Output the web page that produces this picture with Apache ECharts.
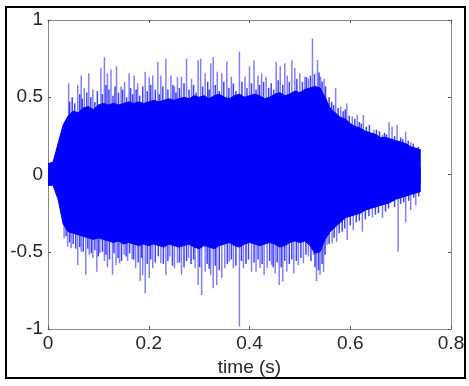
<!DOCTYPE html>
<html>
<head>
<meta charset="utf-8">
<script src="https://cdn.jsdelivr.net/npm/echarts@6/dist/echarts.min.js"></script>
<style>
  html, body { margin: 0; padding: 0; background: #fff; }
  #chart { width: 469px; height: 386px; }
</style>
</head>
<body>
<div id="chart"></div>
<script>
// 包络采样时间 (s)
const envT = [0, 0.01, 0.02, 0.03, 0.04, 0.05, 0.06, 0.07, 0.08, 0.09,
  0.10, 0.11, 0.12, 0.13, 0.14, 0.15, 0.16, 0.17, 0.18, 0.19,
  0.20, 0.21, 0.22, 0.23, 0.24, 0.25, 0.26, 0.27, 0.28, 0.29,
  0.30, 0.31, 0.32, 0.33, 0.34, 0.35, 0.36, 0.37, 0.38, 0.39,
  0.40, 0.41, 0.42, 0.43, 0.44, 0.45, 0.46, 0.47, 0.48, 0.49,
  0.50, 0.51, 0.52, 0.53, 0.54, 0.55, 0.56, 0.57, 0.58, 0.59,
  0.60, 0.61, 0.62, 0.63, 0.64, 0.65, 0.66, 0.67, 0.68, 0.69,
  0.70, 0.71, 0.72, 0.73, 0.74];
// 波形密集部分的上包络
const envUpper = [0.07, 0.08, 0.20, 0.32, 0.38, 0.41, 0.40, 0.43, 0.44, 0.42,
  0.45, 0.46, 0.45, 0.46, 0.45, 0.46, 0.47, 0.46, 0.47, 0.46,
  0.47, 0.48, 0.47, 0.48, 0.49, 0.48, 0.49, 0.50, 0.49, 0.51,
  0.50, 0.51, 0.49, 0.51, 0.52, 0.50, 0.49, 0.51, 0.52, 0.50,
  0.51, 0.52, 0.51, 0.49, 0.50, 0.52, 0.53, 0.51, 0.52, 0.54,
  0.53, 0.55, 0.56, 0.57, 0.56, 0.50, 0.43, 0.40, 0.37, 0.36,
  0.33, 0.31, 0.30, 0.28, 0.27, 0.26, 0.24, 0.24, 0.23, 0.22,
  0.21, 0.20, 0.18, 0.17, 0.16];
// 下包络
const envLower = [-0.07, -0.07, -0.16, -0.32, -0.37, -0.38, -0.39, -0.40, -0.41, -0.42,
  -0.41, -0.42, -0.43, -0.44, -0.43, -0.45, -0.44, -0.45, -0.46, -0.45,
  -0.46, -0.45, -0.46, -0.47, -0.45, -0.46, -0.47, -0.46, -0.45, -0.47,
  -0.48, -0.46, -0.47, -0.48, -0.46, -0.45, -0.44, -0.46, -0.47, -0.45,
  -0.44, -0.45, -0.46, -0.45, -0.44, -0.45, -0.47, -0.46, -0.44, -0.43,
  -0.44, -0.43, -0.46, -0.51, -0.50, -0.42, -0.37, -0.34, -0.31, -0.28,
  -0.27, -0.26, -0.25, -0.23, -0.22, -0.21, -0.20, -0.19, -0.18, -0.16,
  -0.15, -0.14, -0.13, -0.12, -0.11];
// 突出的尖峰 [时间, 幅值]
const spikesUp = [
  [0.041, 0.59], [0.059, 0.58], [0.066, 0.64], [0.072, 0.56], [0.081, 0.655],
  [0.089, 0.55], [0.105, 0.69], [0.112, 0.76], [0.118, 0.655], [0.125, 0.68],
  [0.136, 0.70], [0.145, 0.57], [0.152, 0.60], [0.161, 0.655], [0.171, 0.64],
  [0.178, 0.59], [0.193, 0.665], [0.201, 0.63], [0.208, 0.64], [0.218, 0.73],
  [0.224, 0.64], [0.234, 0.75], [0.244, 0.64], [0.251, 0.57], [0.257, 0.63],
  [0.265, 0.633], [0.275, 0.75], [0.285, 0.62], [0.298, 0.74], [0.303, 0.75],
  [0.312, 0.655], [0.323, 0.72], [0.328, 0.76], [0.336, 0.665], [0.345, 0.655],
  [0.355, 0.73], [0.364, 0.633], [0.380, 0.795], [0.391, 0.633], [0.400, 0.70],
  [0.409, 0.74], [0.417, 0.64], [0.424, 0.655], [0.433, 0.633], [0.453, 0.73],
  [0.461, 0.70], [0.470, 0.72], [0.475, 0.64], [0.484, 0.74], [0.490, 0.69],
  [0.500, 0.655], [0.510, 0.633], [0.517, 0.62], [0.525, 0.88], [0.535, 0.74],
  [0.541, 0.633], [0.548, 0.62], [0.571, 0.56], [0.581, 0.44], [0.593, 0.46],
  [0.604, 0.375], [0.614, 0.385], [0.626, 0.385], [0.647, 0.29], [0.664, 0.256],
  [0.677, 0.34], [0.683, 0.31], [0.693, 0.32], [0.710, 0.277], [0.720, 0.21],
  [0.730, 0.17]
];
const spikesDn = [
  [0.032, -0.413], [0.039, -0.467], [0.046, -0.478], [0.059, -0.586], [0.066, -0.50],
  [0.075, -0.65], [0.082, -0.52], [0.089, -0.54], [0.097, -0.63], [0.103, -0.51],
  [0.112, -0.56], [0.118, -0.60], [0.128, -0.65], [0.135, -0.586], [0.142, -0.575],
  [0.151, -0.52], [0.158, -0.56], [0.167, -0.55], [0.174, -0.607], [0.183, -0.69],
  [0.188, -0.65], [0.193, -0.77], [0.201, -0.67], [0.208, -0.607], [0.224, -0.575],
  [0.234, -0.65], [0.242, -0.53], [0.251, -0.607], [0.257, -0.575], [0.265, -0.65],
  [0.279, -0.54], [0.292, -0.607], [0.298, -0.715], [0.305, -0.78], [0.312, -0.63],
  [0.323, -0.65], [0.328, -0.737], [0.335, -0.715], [0.345, -0.67], [0.351, -0.607],
  [0.360, -0.564], [0.368, -0.607], [0.380, -0.985], [0.388, -0.607], [0.404, -0.63],
  [0.413, -0.63], [0.421, -0.607], [0.429, -0.65], [0.435, -0.607], [0.444, -0.586],
  [0.451, -0.64], [0.459, -0.715], [0.466, -0.693], [0.474, -0.63], [0.488, -0.64],
  [0.497, -0.586], [0.507, -0.575], [0.517, -0.53], [0.527, -0.52], [0.533, -0.69],
  [0.540, -0.65], [0.547, -0.63], [0.554, -0.456], [0.564, -0.445], [0.573, -0.435],
  [0.594, -0.424], [0.606, -0.36], [0.624, -0.37], [0.644, -0.28], [0.664, -0.28],
  [0.695, -0.50], [0.710, -0.31], [0.720, -0.23], [0.730, -0.20]
];
// 包络边缘的小尖峰
const minorUp = [
  [0.043, 0.47], [0.048, 0.50], [0.053, 0.46], [0.063, 0.52], [0.068, 0.49],
  [0.077, 0.53], [0.085, 0.50], [0.093, 0.47], [0.098, 0.54], [0.108, 0.52],
  [0.115, 0.58], [0.121, 0.55], [0.129, 0.51], [0.133, 0.57], [0.140, 0.53],
  [0.148, 0.55], [0.156, 0.50], [0.164, 0.56], [0.168, 0.52], [0.175, 0.55],
  [0.182, 0.51], [0.188, 0.57], [0.197, 0.54], [0.204, 0.58], [0.213, 0.55],
  [0.221, 0.52], [0.228, 0.57], [0.238, 0.55], [0.248, 0.58], [0.254, 0.53],
  [0.261, 0.56], [0.270, 0.59], [0.280, 0.55], [0.289, 0.58], [0.294, 0.53],
  [0.307, 0.57], [0.317, 0.60], [0.320, 0.55], [0.332, 0.58], [0.340, 0.54],
  [0.349, 0.60], [0.359, 0.56], [0.368, 0.59], [0.373, 0.54], [0.385, 0.60],
  [0.395, 0.56], [0.404, 0.59], [0.413, 0.55], [0.420, 0.58], [0.428, 0.60],
  [0.438, 0.56], [0.443, 0.59], [0.448, 0.55], [0.457, 0.61], [0.466, 0.58],
  [0.479, 0.60], [0.494, 0.62], [0.505, 0.60], [0.513, 0.63], [0.521, 0.64],
  [0.529, 0.65], [0.538, 0.66], [0.544, 0.60], [0.551, 0.57], [0.558, 0.50],
  [0.563, 0.47], [0.567, 0.45], [0.576, 0.43], [0.586, 0.41], [0.590, 0.42],
  [0.598, 0.38], [0.609, 0.36], [0.618, 0.34], [0.622, 0.33], [0.632, 0.31],
  [0.638, 0.32], [0.652, 0.29], [0.658, 0.28], [0.668, 0.27], [0.672, 0.26],
  [0.688, 0.25], [0.700, 0.24], [0.704, 0.23], [0.715, 0.22], [0.725, 0.20],
  [0.735, 0.18]
];
const minorDn = [
  [0.036, -0.40], [0.043, -0.44], [0.050, -0.45], [0.055, -0.48], [0.063, -0.47],
  [0.070, -0.50], [0.079, -0.48], [0.086, -0.51], [0.093, -0.49], [0.100, -0.53],
  [0.108, -0.50], [0.115, -0.52], [0.122, -0.55], [0.131, -0.51], [0.139, -0.54],
  [0.146, -0.56], [0.155, -0.53], [0.162, -0.51], [0.170, -0.55], [0.179, -0.57],
  [0.186, -0.54], [0.197, -0.58], [0.204, -0.55], [0.213, -0.57], [0.219, -0.53],
  [0.229, -0.58], [0.238, -0.56], [0.247, -0.59], [0.261, -0.57], [0.270, -0.60],
  [0.275, -0.56], [0.284, -0.58], [0.289, -0.55], [0.301, -0.60], [0.316, -0.58],
  [0.320, -0.61], [0.332, -0.59], [0.340, -0.62], [0.356, -0.58], [0.364, -0.55],
  [0.373, -0.59], [0.384, -0.56], [0.393, -0.58], [0.398, -0.55], [0.409, -0.57],
  [0.417, -0.55], [0.425, -0.58], [0.440, -0.56], [0.447, -0.60], [0.455, -0.57],
  [0.463, -0.60], [0.470, -0.56], [0.479, -0.58], [0.484, -0.55], [0.493, -0.56],
  [0.502, -0.54], [0.512, -0.52], [0.522, -0.56], [0.530, -0.60], [0.537, -0.62],
  [0.544, -0.58], [0.550, -0.52], [0.558, -0.45], [0.568, -0.41], [0.578, -0.38],
  [0.584, -0.37], [0.589, -0.35], [0.600, -0.33], [0.612, -0.31], [0.618, -0.30],
  [0.630, -0.29], [0.637, -0.27], [0.650, -0.26], [0.656, -0.25], [0.670, -0.24],
  [0.676, -0.22], [0.688, -0.21], [0.700, -0.19], [0.706, -0.18], [0.716, -0.17],
  [0.726, -0.15], [0.736, -0.14]
];
const xLabels = ['0', '0.2', '0.4', '0.6', '0.8'];
const yLabels = ['-1', '-0.5', '0', '0.5', '1'];

const font = 'Liberation Sans, Arial, sans-serif';
const blue = '#0000ff';
const spikeColor = 'rgba(0,0,255,0.5)';

var chart = echarts.init(document.getElementById('chart'));

function toPairs(ys) {
  return envT.map(function (t, i) { return [t, ys[i]]; });
}

var baseX = {
  type: 'value', min: 0, max: 0.8, interval: 0.2,
  axisLine: { show: true, onZero: false, lineStyle: { color: '#8a8a8a', width: 1 } },
  axisTick: { show: true, inside: true, length: 3, lineStyle: { color: '#555' } },
  splitLine: { show: false }
};
var baseY = {
  type: 'value', min: -1, max: 1, interval: 0.5,
  axisLine: { show: true, onZero: false, lineStyle: { color: '#8a8a8a', width: 1 } },
  axisTick: { show: true, inside: true, length: 3, lineStyle: { color: '#555' } },
  splitLine: { show: false }
};

var option = {
  animation: false,
  backgroundColor: '#fff',
  grid: { left: 48, top: 20, right: 18, bottom: 57 },
  graphic: [{
    type: 'rect',
    shape: { x: 6, y: 7, width: 459, height: 371 },
    style: { fill: 'none', stroke: '#000', lineWidth: 2 },
    silent: true
  }],
  xAxis: [
    Object.assign({}, baseX, {
      position: 'bottom',
      name: 'time (s)', nameLocation: 'middle', nameGap: 22,
      nameTextStyle: { color: '#262626', fontSize: 19, fontFamily: font },
      axisLabel: {
        color: '#262626', fontSize: 19, fontFamily: font, margin: 5,
        formatter: function (v) { return xLabels[Math.round(v / 0.2)]; }
      }
    }),
    Object.assign({}, baseX, { position: 'top', axisLabel: { show: false } })
  ],
  yAxis: [
    Object.assign({}, baseY, {
      position: 'left',
      axisLabel: {
        color: '#262626', fontSize: 19, fontFamily: font, margin: 5,
        formatter: function (v) { return yLabels[Math.round((v + 1) / 0.5)]; }
      }
    }),
    Object.assign({}, baseY, { position: 'right', axisLabel: { show: false } })
  ],
  series: [
    {
      name: 'lower', type: 'line', data: toPairs(envLower),
      showSymbol: false, symbol: 'none',
      lineStyle: { color: blue, width: 1 },
      areaStyle: { color: blue, opacity: 1, origin: 0.05 }
    },
    {
      name: 'upper', type: 'line', data: toPairs(envUpper),
      showSymbol: false, symbol: 'none',
      lineStyle: { color: blue, width: 1 },
      areaStyle: { color: blue, opacity: 1, origin: -0.05 }
    },
    {
      name: 'minor', type: 'bar', data: minorUp.concat(minorDn),
      barWidth: 1.5, barGap: '-100%',
      itemStyle: { color: 'rgba(0,0,255,0.75)' }
    },
    {
      name: 'spikes', type: 'bar', data: spikesUp.concat(spikesDn),
      barWidth: 1.5, barGap: '-100%',
      itemStyle: { color: spikeColor }
    }
  ]
};
chart.setOption(option);
</script>
</body>
</html>
